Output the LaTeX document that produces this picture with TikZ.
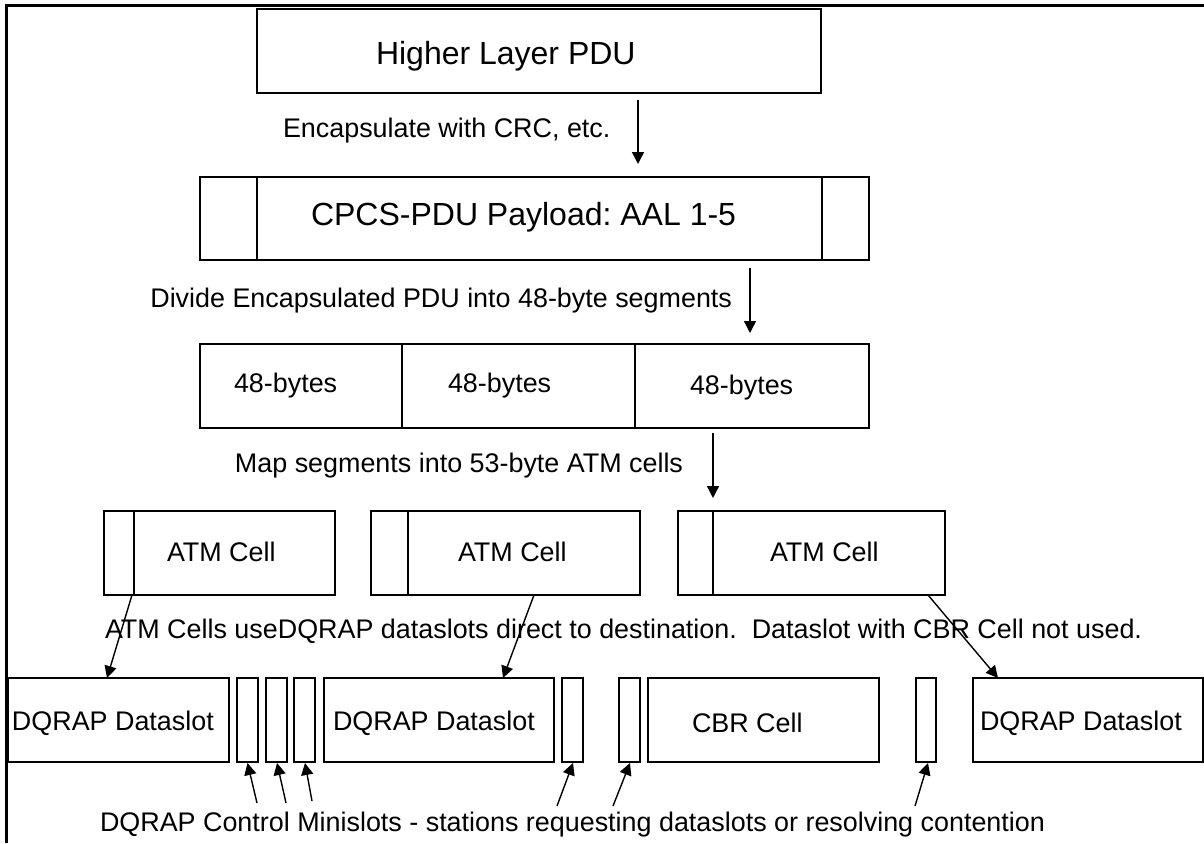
\documentclass[tikz,border=0pt]{standalone}
\usepackage{fontspec}
\setmainfont{Liberation Sans}
\usetikzlibrary{arrows.meta,calc}
\frenchspacing
\tikzset{
  box/.style={draw, line width=2.2pt, inner sep=0pt, outer sep=0pt, anchor=north west},
  divider/.style={line width=2pt},
  lbl/.style={inner sep=0pt, outer sep=0pt, font=\fontsize{26.9}{32}\selectfont},
  biglbl/.style={inner sep=0pt, outer sep=0pt, font=\fontsize{32}{38}\selectfont},
  arr/.style={line width=1.4pt, -{Triangle[length=12pt,width=12pt]}},
  frameline/.style={line width=3pt}
}
\newcommand{\boxat}[5]{\node[box, minimum width=#4pt, minimum height=#5pt] (#1) at (#2,#3) {};}
\begin{document}
\begin{tikzpicture}[x=1pt,y=-1pt]
\useasboundingbox (0,0) rectangle (1204,843);
\fill[white] (0,0) rectangle (1204,843);
\draw[frameline] (6,843) -- (6,6) -- (1204,6);

% Higher layer PDU
\boxat{hl}{257}{9}{564}{84}
\node[biglbl, anchor=base west] (hlt) at (376,65) {Higher Layer PDU};

% CPCS
\boxat{cp}{200}{177}{669}{83}
\draw[divider] (cp.north west -| 257,0) -- (cp.south west -| 257,0);
\draw[divider] (cp.north west -| 822,0) -- (cp.south west -| 822,0);
\node[biglbl, anchor=base west] (cpt) at (311,225) {CPCS-PDU Payload: AAL 1-5};

% segments
\boxat{seg}{200}{344}{669}{84}
\draw[divider] (seg.north west -| 402,0) -- (seg.south west -| 402,0);
\draw[divider] (seg.north west -| 635,0) -- (seg.south west -| 635,0);
\node[lbl, anchor=base west] (s1) at (234,392) {48-bytes};
\node[lbl, anchor=base west] (s2) at (448,392) {48-bytes};
\node[lbl, anchor=base west] (s3) at (690,394) {48-bytes};

% ATM cells
\boxat{atm1}{104}{511}{231}{84}
\draw[divider] (atm1.north west -| 134,0) -- (atm1.south west -| 134,0);
\node[lbl, anchor=base west] (at1) at (167,561) {ATM Cell};
\boxat{atm2}{371}{511}{269}{84}
\draw[divider] (atm2.north west -| 408,0) -- (atm2.south west -| 408,0);
\node[lbl, anchor=base west] (at2) at (458,561) {ATM Cell};
\boxat{atm3}{678}{511}{267}{84}
\draw[divider] (atm3.north west -| 713,0) -- (atm3.south west -| 713,0);
\node[lbl, anchor=base west] (at3) at (770,561) {ATM Cell};

% bottom row
\boxat{ds1}{8}{678}{221}{84}
\node[lbl, anchor=base west] (ds1t) at (12,730) {DQRAP Dataslot};
\boxat{m1}{237}{678}{21}{84}
\boxat{m2}{266}{678}{21}{84}
\boxat{m3}{294}{678}{21}{84}
\boxat{ds2}{324}{678}{230}{84}
\node[lbl, anchor=base west] (ds2t) at (333,730) {DQRAP Dataslot};
\boxat{m4}{562}{678}{21}{84}
\boxat{m5}{619}{678}{21}{84}
\boxat{cbr}{648}{678}{231}{84}
\node[lbl, anchor=base west] (cbrt) at (692,732) {CBR Cell};
\boxat{m6}{916}{678}{20}{84}
\boxat{ds3}{973}{678}{230}{84}
\node[lbl, anchor=base west] (ds3t) at (980,730) {DQRAP Dataslot};

% labels
\node[lbl, anchor=base west] (l1) at (283,137) {Encapsulate with CRC, etc.};
\node[lbl, anchor=base east] (l2) at (732,307) {Divide Encapsulated PDU into 48-byte segments};
\node[lbl, anchor=base east] (l3) at (683,472) {Map segments into 53-byte ATM cells};
\node[lbl, anchor=base west] (l4) at (105,638) {ATM Cells useDQRAP dataslots direct to destination.\ \ Dataslot with CBR Cell not used.};
\node[lbl, anchor=base west] (l5) at (100,831) {DQRAP Control Minislots - stations requesting dataslots or resolving contention};

% vertical arrows
\coordinate (x1) at (638,0);
\coordinate (x2) at (750,0);
\coordinate (x3) at (713,0);
\draw[arr, shorten <=7pt, shorten >=13pt] (hl.south -| x1) -- (cp.north -| x1);
\draw[arr, shorten <=8pt, shorten >=11pt] (cp.south -| x2) -- (seg.north -| x2);
\draw[arr, shorten <=5pt, shorten >=13pt] (seg.south -| x3) -- (atm1.north -| x3);

% ATM cell to dataslot arrows
\coordinate (c1a) at (132,0); \coordinate (c1b) at (107,0);
\coordinate (c2a) at (534,0); \coordinate (c2b) at (503,0);
\coordinate (c3a) at (928,0); \coordinate (c3b) at (998,0);
\draw[arr] (atm1.south -| c1a) -- (ds1.north -| c1b);
\draw[arr] (atm2.south -| c2a) -- (ds2.north -| c2b);
\draw[arr] (atm3.south -| c3a) -- (ds3.north -| c3b);

% minislot arrows
\coordinate (t1) at (257,803);
\coordinate (t2) at (286,803);
\coordinate (t3) at (312,801);
\coordinate (t4) at (557,806);
\coordinate (t5) at (613,806);
\coordinate (t6) at (915,806);
\draw[arr] (t1) -- ($(m1.south)+(0,1)$);
\draw[arr] (t2) -- ($(m2.south)+(0.5,1)$);
\draw[arr] (t3) -- ($(m3.south)+(0.5,1)$);
\draw[arr] (t4) -- ($(m4.south)+(0.5,1)$);
\draw[arr] (t5) -- ($(m5.south)+(0.5,1)$);
\draw[arr] (t6) -- ($(m6.south)+(2,1)$);
\end{tikzpicture}
\end{document}
